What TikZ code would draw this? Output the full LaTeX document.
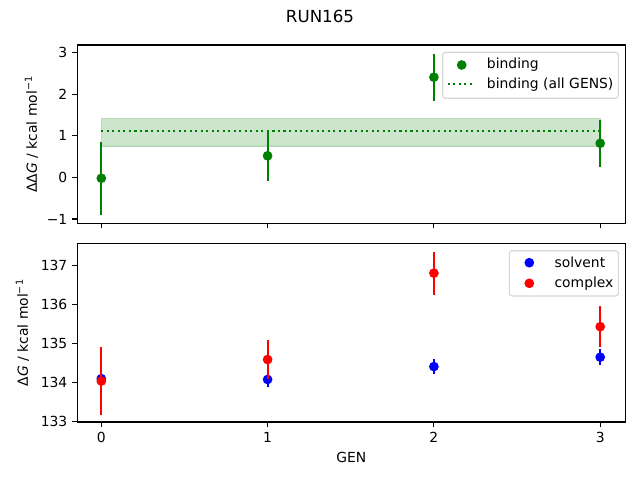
\documentclass[tikz,border=0pt]{standalone}
\usepackage{fontspec}
\setmainfont{DejaVu Sans}
\newcommand\tx[1]{101.3+166.3*(#1)}
\newcommand\ty[1]{177.4-41.575*(#1)}
\newcommand\by[1]{382.6-39.1*((#1)-134)}
\definecolor{mgreen}{rgb}{0,0.5,0}
\definecolor{mblue}{rgb}{0,0,1}
\definecolor{mred}{rgb}{1,0,0}
\definecolor{band}{rgb}{0.8,0.9,0.8}
\definecolor{bandedge}{rgb}{0.72,0.86,0.72}
\definecolor{legedge}{rgb}{0.8,0.8,0.8}
\tikzset{
  spine/.style={line width=0.8pt, draw=black},
  tickmark/.style={line width=0.8pt, draw=black},
  ticklab/.style={font=\fontsize{10}{12}\selectfont, inner sep=0pt},
  errbar/.style={line width=1.5pt},
  dotmark/.style={radius=3.5pt},
  legbox/.style={draw=legedge, fill=white, fill opacity=0.8, draw opacity=0.8, line width=0.8pt, rounded corners=2pt},
  legtext/.style={font=\fontsize{10}{12}\selectfont, inner sep=0pt, anchor=west},
}
\begin{document}
\begin{tikzpicture}[x=0.72pt, y=-0.72pt]
\useasboundingbox (0,0) rectangle (640,480);
% title
\node[font=\fontsize{12}{14}\selectfont, inner sep=0pt] (title) at (320,16.5) {RUN165};

% ================= TOP AXES =================
% band and mean line
\fill[band] ({\tx{0}},{\ty{1.41}}) rectangle ({\tx{3}},{\ty{0.76}});
\draw[bandedge, line width=1pt] ({\tx{0}},{\ty{1.41}}) rectangle ({\tx{3}},{\ty{0.76}});
\draw[mgreen, line width=1.5pt, dash pattern=on 1.5pt off 2.475pt] ({\tx{0}},{\ty{1.115}}) -- ({\tx{3}},{\ty{1.115}});
% error bars
\foreach \g/\v/\e in {0/-0.02/0.88, 1/0.52/0.60, 2/2.41/0.57, 3/0.82/0.57}{
  \draw[mgreen, errbar] ({\tx{\g}},{\ty{\v-\e}}) -- ({\tx{\g}},{\ty{\v+\e}});
  \fill[mgreen] ({\tx{\g}},{\ty{\v}}) circle[dotmark];
}
% spines
\draw[spine] (77.3,45) rectangle (625.3,223.3);
% ticks
\foreach \g in {0,1,2,3}{
  \draw[tickmark] ({\tx{\g}},223.3) -- ++(0,4.86);
}
\foreach \v/\l in {3/3,2/2,1/1,0/0,-1/−1}{
  \draw[tickmark] (77.3,{\ty{\v}}) -- ++(-4.86,0);
  \node[ticklab, anchor=east] at (67.6,{\ty{\v}}) {\l};
}
\node[font=\fontsize{10}{12}\selectfont, rotate=90, inner sep=0pt] (ylab1) at (31.5,134.2) {ΔΔ\textit{G} / kcal mol\textsuperscript{−1}};
% legend top
\draw[legbox] (442.7,52.3) rectangle (618.3,98.3);
\fill[mgreen] (461.7,65) circle[dotmark];
\node[legtext] (lb1) at (486.7,65) {binding};
\draw[mgreen, line width=1.5pt, dash pattern=on 1.5pt off 2.475pt] (447.7,84.3) -- (475,84.3);
\node[legtext] (lb2) at (486.7,84.3) {binding (all GENS)};

% ================= BOTTOM AXES =================
\foreach \g/\v/\e in {0/134.10/0.10, 1/134.08/0.20, 2/134.41/0.19, 3/134.65/0.20}{
  \draw[mblue, errbar] ({\tx{\g}},{\by{\v-\e}}) -- ({\tx{\g}},{\by{\v+\e}});
}
\foreach \g/\v/\e in {0/134.10/0.10, 1/134.08/0.20, 2/134.41/0.19, 3/134.65/0.20}{
  \fill[mblue] ({\tx{\g}},{\by{\v}}) circle[dotmark];
}
\foreach \g/\v/\e in {0/134.04/0.87, 1/134.59/0.51, 2/136.80/0.55, 3/135.43/0.52}{
  \draw[mred, errbar] ({\tx{\g}},{\by{\v-\e}}) -- ({\tx{\g}},{\by{\v+\e}});
  \fill[mred] ({\tx{\g}},{\by{\v}}) circle[dotmark];
}
\draw[spine] (77.3,243.3) rectangle (625.3,422);
\foreach \g in {0,1,2,3}{
  \draw[tickmark] ({\tx{\g}},422) -- ++(0,4.86);
  \node[ticklab, anchor=north] at ({\tx{\g}},431.6) {\g};
}
\foreach \v in {137,136,135,134,133}{
  \draw[tickmark] (77.3,{\by{\v}}) -- ++(-4.86,0);
  \node[ticklab, anchor=east] at (67.6,{\by{\v}}) {\v};
}
\node[font=\fontsize{10}{12}\selectfont, rotate=90, inner sep=0pt] (ylab2) at (22.5,332.6) {Δ\textit{G} / kcal mol\textsuperscript{−1}};
\node[font=\fontsize{10}{12}\selectfont, inner sep=0pt] (xlab) at (351.3,457.5) {GEN};
% legend bottom
\draw[legbox] (509.3,250.7) rectangle (618.3,296);
\fill[mblue] (529.3,262.7) circle[dotmark];
\node[legtext] (ls) at (554.3,262.7) {solvent};
\fill[mred] (529.3,283.3) circle[dotmark];
\node[legtext] (lc) at (554.3,283.3) {complex};
\end{tikzpicture}
\end{document}
